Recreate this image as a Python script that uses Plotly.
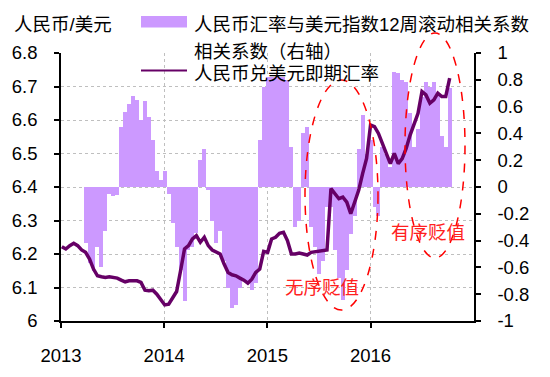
import plotly.graph_objects as go
import pandas as pd

# ---- data (bi-weekly readings) ----
dates = pd.date_range('2013-01-04', periods=99, freq='14D')

spot_rate = [
    6.222, 6.215, 6.225, 6.232, 6.225, 6.212, 6.205, 6.185, 6.155, 6.135,
    6.132, 6.130, 6.132, 6.130, 6.128, 6.122, 6.117, 6.120, 6.120, 6.120,
    6.115, 6.092, 6.090, 6.092, 6.080, 6.065, 6.048, 6.050, 6.070, 6.088,
    6.150, 6.215, 6.225, 6.245, 6.255, 6.235, 6.250, 6.225, 6.212, 6.205,
    6.200, 6.170, 6.145, 6.138, 6.135, 6.128, 6.122, 6.113, 6.125, 6.145,
    6.155, 6.208, 6.205, 6.245, 6.250, 6.262, 6.265, 6.240, 6.200, 6.200,
    6.203, 6.200, 6.197, 6.205, 6.207, 6.210, 6.212, 6.212, 6.395, 6.380,
    6.365, 6.370, 6.355, 6.320, 6.355, 6.390, 6.440, 6.485, 6.585, 6.580,
    6.560, 6.530, 6.495, 6.470, 6.500, 6.470, 6.485, 6.515, 6.555, 6.585,
    6.620, 6.685, 6.675, 6.650, 6.660, 6.680, 6.670, 6.670, 6.725,
]

correlation = [None] * 6 + [
    -0.42, -0.57, -0.63, -0.45, -0.60, -0.33, -0.05, -0.07, -0.06, 0.45,
    0.56, 0.62, 0.68, 0.65, 0.50, 0.64, 0.52, 0.35, 0.12, 0.05,
    0.12, -0.05, -0.27, -0.45, -0.62, -0.85, -0.47, -0.45, -0.34, 0.20,
    0.28, -0.02, -0.25, -0.42, -0.33, -0.55, -0.75, -0.90, -0.88, -0.75,
    -0.70, -0.72, -0.77, -0.72, 0.35, 0.75, 0.82, 0.82, 0.82, 0.82,
    0.82, 0.80, 0.30, -0.30, -0.25, 0.40, 0.45, -0.30, -0.45, -0.65,
    -0.55, -0.15, -0.15, -0.47, -0.68, -0.84, -0.62, -0.35, -0.22, 0.28,
    0.54, 0.25, 0.35, -0.15, -0.22, 0.30, 0.25, 0.15, 0.86, 0.85,
    0.80, 0.78, 0.55, 0.30, 0.43, 0.67, 0.78, 0.75, 0.78, 0.70,
    0.38, 0.30, 0.74,
]

year_ticks = ['2013-01-01', '2014-01-01', '2015-01-01', '2016-01-01']
year_labels = ['2013', '2014', '2015', '2016']
left_ticks = [6.0, 6.1, 6.2, 6.3, 6.4, 6.5, 6.6, 6.7, 6.8]
left_labels = ['6', '6.1', '6.2', '6.3', '6.4', '6.5', '6.6', '6.7', '6.8']
right_ticks = [-1, -0.8, -0.6, -0.4, -0.2, 0, 0.2, 0.4, 0.6, 0.8, 1]
right_labels = ['-1', '-0.8', '-0.6', '-0.4', '-0.2', '0', '0.2', '0.4', '0.6', '0.8', '1']

bar_name = '人民币汇率与美元指数12周滚动相关系数<br>相关系数（右轴）'
line_name = '人民币兑美元即期汇率'

BAR_COLOR = '#CC99FF'
LINE_COLOR = '#660066'
FONT = 'Liberation Sans, Arial, Noto Sans CJK SC, sans-serif'
FS = 18.5

# ---- layout geometry (page pixels; page body has an 8px margin) ----
OFF = 8
W, H = 550 - OFF, 377 - OFF
L, R, T, B = 61, 474, 53, 321   # plot area in page pixels


def px(xp):
    return (xp - L) / (R - L)


def py(yp):
    return (B - yp) / (B - T)


fig = go.Figure()

fig.add_trace(go.Bar(
    x=dates, y=correlation, yaxis='y', name=bar_name,
    width=14 * 24 * 3600 * 1000,
    marker=dict(color=BAR_COLOR, line=dict(width=0)),
    showlegend=False,
))

fig.add_trace(go.Scatter(
    x=dates, y=spot_rate, yaxis='y2', name=line_name, mode='lines',
    line=dict(color=LINE_COLOR, width=3.5),
    showlegend=False,
))

axis_common = dict(
    showline=True, linecolor='black', linewidth=1.5,
    ticks='outside', ticklen=5, tickwidth=1.5, tickcolor='black',
    tickfont=dict(family=FONT, size=FS, color='black'),
    zeroline=False, automargin=False,
)

fig.update_layout(
    width=W, height=H,
    margin=dict(l=L - OFF, r=W - (R - OFF), t=T - OFF, b=H - (B - OFF)),
    paper_bgcolor='white', plot_bgcolor='white',
    font=dict(family=FONT, size=FS, color='black'),
    bargap=0,
    xaxis=dict(
        type='date', range=['2013-01-01', '2017-01-01'],
        tickmode='array', tickvals=year_ticks, ticktext=year_labels,
        showgrid=True, gridcolor='#BFBFBF', griddash='dot', gridwidth=1,
        ticklabelstandoff=12,
        **axis_common,
    ),
    yaxis=dict(
        side='right', range=[-1, 1],
        tickmode='array', tickvals=right_ticks, ticktext=right_labels,
        showgrid=False, ticklabelstandoff=13,
        **axis_common,
    ),
    yaxis2=dict(
        side='left', overlaying='y', range=[6.0, 6.8],
        tickmode='array', tickvals=left_ticks, ticktext=left_labels,
        showgrid=True, gridcolor='#BFBFBF', griddash='dot', gridwidth=1,
        ticklabelstandoff=13,
        **axis_common,
    ),
)

# ---- manual legend ----
fig.add_shape(type='rect', xref='paper', yref='paper',
              x0=px(141), x1=px(187), y0=py(27.5), y1=py(16),
              fillcolor=BAR_COLOR, line=dict(width=0))
fig.add_shape(type='line', xref='paper', yref='paper',
              x0=px(141), x1=px(187), y0=py(70.5), y1=py(70.5),
              line=dict(color=LINE_COLOR, width=2))

ann_common = dict(xref='paper', yref='paper', showarrow=False,
                  xanchor='left', yanchor='middle')
fig.add_annotation(x=px(192), y=py(25), text='人民币汇率与美元指数12周滚动相关系数',
                   font=dict(family=FONT, size=FS, color='black'), **ann_common)
fig.add_annotation(x=px(192), y=py(51), text='相关系数（右轴）',
                   font=dict(family=FONT, size=FS, color='black'), **ann_common)
fig.add_annotation(x=px(192), y=py(74), text=line_name,
                   font=dict(family=FONT, size=FS, color='black'), **ann_common)
fig.add_annotation(x=px(12), y=py(25), text='人民币/美元',
                   font=dict(family=FONT, size=FS, color='black'), **ann_common)

# ---- dashed ellipses + labels ----
fig.add_shape(type='circle', xref='paper', yref='paper',
              x0=px(305), x1=px(378), y0=py(310), y1=py(80),
              line=dict(color='#FF0000', width=1.5, dash='dash'))
fig.add_shape(type='circle', xref='paper', yref='paper',
              x0=px(405), x1=px(465), y0=py(258), y1=py(33),
              line=dict(color='#FF0000', width=1.5, dash='dash'))
fig.add_annotation(x=px(322), y=py(287), text='无序贬值', xref='paper', yref='paper',
                   showarrow=False, xanchor='center', yanchor='middle',
                   font=dict(family=FONT, size=FS, color='#FF2020'))
fig.add_annotation(x=px(428), y=py(232), text='有序贬值', xref='paper', yref='paper',
                   showarrow=False, xanchor='center', yanchor='middle',
                   font=dict(family=FONT, size=FS, color='#FF2020'))

fig.write_html('out.html')
